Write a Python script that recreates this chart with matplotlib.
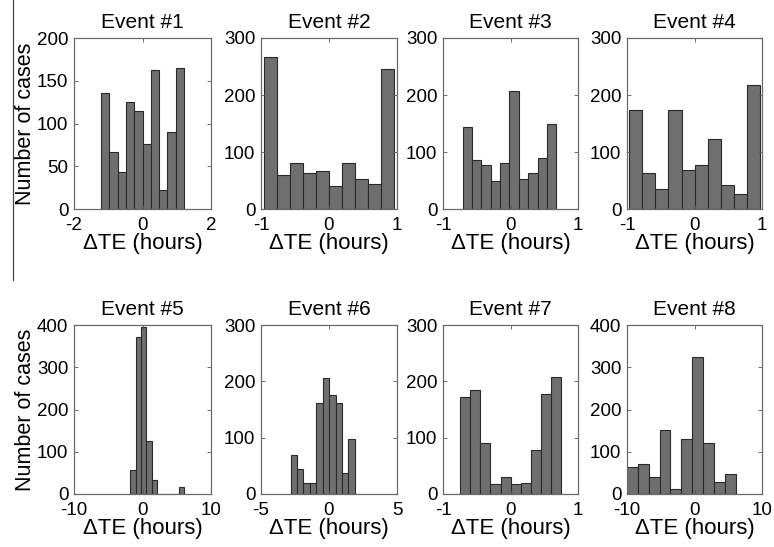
import numpy as np
import matplotlib
matplotlib.use("Agg")
import matplotlib.pyplot as plt
from matplotlib.lines import Line2D

plt.rcParams['font.family'] = ['Liberation Sans', 'DejaVu Sans']
plt.rcParams['axes.unicode_minus'] = False

# histogram counts (10 bins per event)
titles = ["Event #1", "Event #2", "Event #3", "Event #4",
          "Event #5", "Event #6", "Event #7", "Event #8"]

counts = [
    [136, 67, 43, 125, 115, 76, 163, 22, 90, 165],
    [266, 60, 81, 64, 66, 41, 81, 53, 44, 246],
    [144, 86, 78, 49, 81, 207, 52, 64, 90, 150],
    [173, 64, 35, 173, 69, 78, 123, 42, 27, 217],
    [57, 372, 395, 126, 34, 0, 0, 0, 0, 17],
    [70, 44, 19, 19, 162, 206, 175, 162, 38, 98],
    [172, 184, 91, 18, 30, 17, 19, 78, 177, 208],
    [63, 72, 40, 152, 12, 129, 324, 120, 28, 48],
]

# range of the binned data (hours)
bin_lo = [-1.21, -0.95, -0.71, -0.97, -1.8, -2.83, -0.75, -10.0]
bin_hi = [1.21, 0.95, 0.68, 0.975, 6.05, 1.9, 0.755, 6.08]

xlims = [(-2, 2), (-1, 1), (-1, 1), (-1, 1), (-10, 10), (-5, 5), (-1, 1), (-10, 10)]
xticks = [[-2, 0, 2], [-1, 0, 1], [-1, 0, 1], [-1, 0, 1],
          [-10, 0, 10], [-5, 0, 5], [-1, 0, 1], [-10, 0, 10]]
ymax = [200, 300, 300, 300, 400, 300, 300, 400]
ystep = [50, 100, 100, 100, 100, 100, 100, 100]

W, H = 774, 547
fig = plt.figure(figsize=(W / 100, H / 100), dpi=100)

# axes boxes in pixels: (left, width) per column, (top, bottom) per row
cols = [(74, 137), (261, 136), (443, 135), (627, 135)]
rows = [(38, 209), (325, 494)]

for i in range(8):
    r, c = divmod(i, 4)
    left, w = cols[c]
    top, bot = rows[r]
    ax = fig.add_axes([left / W, 1 - bot / H, w / W, (bot - top) / H])

    edges = np.linspace(bin_lo[i], bin_hi[i], 11)
    centers = (edges[:-1] + edges[1:]) / 2
    ax.hist(centers, bins=edges, weights=counts[i],
            facecolor="#6f6f6f", edgecolor="#2a2a2a", linewidth=0.8)

    ax.set_xlim(xlims[i])
    ax.set_ylim(0, ymax[i])
    ax.set_xticks(xticks[i])
    ax.set_yticks(np.arange(0, ymax[i] + 1, ystep[i]))
    ax.tick_params(direction="in", top=True, right=True, length=3,
                   width=0.6, color="#555555", labelsize=13.5)
    ax.tick_params(axis="x", pad=6)
    ax.tick_params(axis="y", pad=4)
    for s in ax.spines.values():
        s.set_color("#6a6a6a")
        s.set_linewidth(0.9)

    ax.set_title(titles[i], fontsize=15, pad=7)
    ax.set_xlabel("ΔTE (hours)", fontsize=16, labelpad=-1)
    if c == 0:
        ax.set_ylabel("Number of cases", fontsize=15.5, labelpad=1)

# thin vertical rule at the left edge of the page
fig.add_artist(Line2D([13 / W, 13 / W], [1.0, 1 - 280 / H],
                      color="#444444", linewidth=0.9))

fig.savefig("out.png", dpi=100)
